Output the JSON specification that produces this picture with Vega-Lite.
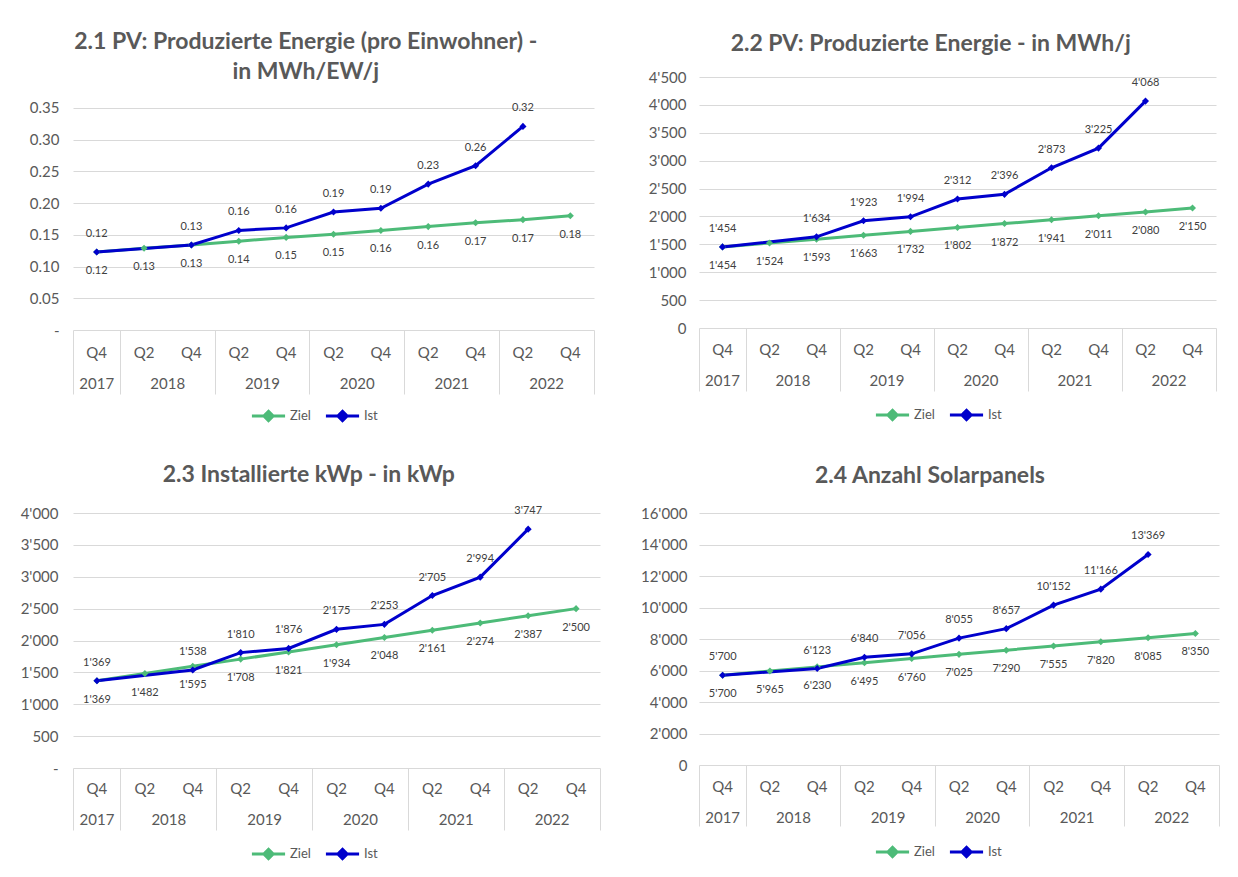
{
  "$schema": "https://vega.github.io/schema/vega-lite/v6.json",
  "padding": {"left": 17, "top": 31, "right": 5, "bottom": 5},
  "background": "white",
  "config": {
    "font": "Lato",
    "view": {"stroke": null},
    "locale": {"number": {"decimal": ".", "thousands": "'", "grouping": [3], "currency": ["", ""]}},
    "axis": {"labelColor": "#595959", "labelFontSize": 15, "gridColor": "#d9d9d9", "domain": false, "ticks": false, "labelFont": "Lato"},
    "title": {"fontSize": 23, "fontWeight": "bold", "color": "#595959", "anchor": "middle", "frame": "bounds", "offset": 18, "lineHeight": 30, "font": "Lato"},
    "legend": {"title": null, "direction": "horizontal", "labelFontSize": 13, "labelColor": "#595959", "symbolType": "M-1,0L1,0M0,-0.28L0.28,0L0,0.28L-0.28,0Z", "symbolSize": 1100, "symbolStrokeWidth": 3, "columnPadding": 8, "labelOffset": 3}
  },
  "datasets": {
    "pc": [
      {"period": "2017-Q4", "series": "Ziel", "value": 0.123},
      {"period": "2018-Q2", "series": "Ziel", "value": 0.129},
      {"period": "2018-Q4", "series": "Ziel", "value": 0.134},
      {"period": "2019-Q2", "series": "Ziel", "value": 0.140},
      {"period": "2019-Q4", "series": "Ziel", "value": 0.146},
      {"period": "2020-Q2", "series": "Ziel", "value": 0.151},
      {"period": "2020-Q4", "series": "Ziel", "value": 0.157},
      {"period": "2021-Q2", "series": "Ziel", "value": 0.163},
      {"period": "2021-Q4", "series": "Ziel", "value": 0.169},
      {"period": "2022-Q2", "series": "Ziel", "value": 0.174},
      {"period": "2022-Q4", "series": "Ziel", "value": 0.180},
      {"period": "2017-Q4", "series": "Ist", "value": 0.123},
      {"period": "2018-Q4", "series": "Ist", "value": 0.134},
      {"period": "2019-Q2", "series": "Ist", "value": 0.157},
      {"period": "2019-Q4", "series": "Ist", "value": 0.161},
      {"period": "2020-Q2", "series": "Ist", "value": 0.186},
      {"period": "2020-Q4", "series": "Ist", "value": 0.192},
      {"period": "2021-Q2", "series": "Ist", "value": 0.230},
      {"period": "2021-Q4", "series": "Ist", "value": 0.259},
      {"period": "2022-Q2", "series": "Ist", "value": 0.321}
    ],
    "energy": [
      {"period": "2017-Q4", "series": "Ziel", "value": 1454},
      {"period": "2018-Q2", "series": "Ziel", "value": 1524},
      {"period": "2018-Q4", "series": "Ziel", "value": 1593},
      {"period": "2019-Q2", "series": "Ziel", "value": 1663},
      {"period": "2019-Q4", "series": "Ziel", "value": 1732},
      {"period": "2020-Q2", "series": "Ziel", "value": 1802},
      {"period": "2020-Q4", "series": "Ziel", "value": 1872},
      {"period": "2021-Q2", "series": "Ziel", "value": 1941},
      {"period": "2021-Q4", "series": "Ziel", "value": 2011},
      {"period": "2022-Q2", "series": "Ziel", "value": 2080},
      {"period": "2022-Q4", "series": "Ziel", "value": 2150},
      {"period": "2017-Q4", "series": "Ist", "value": 1454},
      {"period": "2018-Q4", "series": "Ist", "value": 1634},
      {"period": "2019-Q2", "series": "Ist", "value": 1923},
      {"period": "2019-Q4", "series": "Ist", "value": 1994},
      {"period": "2020-Q2", "series": "Ist", "value": 2312},
      {"period": "2020-Q4", "series": "Ist", "value": 2396},
      {"period": "2021-Q2", "series": "Ist", "value": 2873},
      {"period": "2021-Q4", "series": "Ist", "value": 3225},
      {"period": "2022-Q2", "series": "Ist", "value": 4068}
    ],
    "kwp": [
      {"period": "2017-Q4", "series": "Ziel", "value": 1369},
      {"period": "2018-Q2", "series": "Ziel", "value": 1482},
      {"period": "2018-Q4", "series": "Ziel", "value": 1595},
      {"period": "2019-Q2", "series": "Ziel", "value": 1708},
      {"period": "2019-Q4", "series": "Ziel", "value": 1821},
      {"period": "2020-Q2", "series": "Ziel", "value": 1934},
      {"period": "2020-Q4", "series": "Ziel", "value": 2048},
      {"period": "2021-Q2", "series": "Ziel", "value": 2161},
      {"period": "2021-Q4", "series": "Ziel", "value": 2274},
      {"period": "2022-Q2", "series": "Ziel", "value": 2387},
      {"period": "2022-Q4", "series": "Ziel", "value": 2500},
      {"period": "2017-Q4", "series": "Ist", "value": 1369},
      {"period": "2018-Q4", "series": "Ist", "value": 1538},
      {"period": "2019-Q2", "series": "Ist", "value": 1810},
      {"period": "2019-Q4", "series": "Ist", "value": 1876},
      {"period": "2020-Q2", "series": "Ist", "value": 2175},
      {"period": "2020-Q4", "series": "Ist", "value": 2253},
      {"period": "2021-Q2", "series": "Ist", "value": 2705},
      {"period": "2021-Q4", "series": "Ist", "value": 2994},
      {"period": "2022-Q2", "series": "Ist", "value": 3747}
    ],
    "panels": [
      {"period": "2017-Q4", "series": "Ziel", "value": 5700},
      {"period": "2018-Q2", "series": "Ziel", "value": 5965},
      {"period": "2018-Q4", "series": "Ziel", "value": 6230},
      {"period": "2019-Q2", "series": "Ziel", "value": 6495},
      {"period": "2019-Q4", "series": "Ziel", "value": 6760},
      {"period": "2020-Q2", "series": "Ziel", "value": 7025},
      {"period": "2020-Q4", "series": "Ziel", "value": 7290},
      {"period": "2021-Q2", "series": "Ziel", "value": 7555},
      {"period": "2021-Q4", "series": "Ziel", "value": 7820},
      {"period": "2022-Q2", "series": "Ziel", "value": 8085},
      {"period": "2022-Q4", "series": "Ziel", "value": 8350},
      {"period": "2017-Q4", "series": "Ist", "value": 5700},
      {"period": "2018-Q4", "series": "Ist", "value": 6123},
      {"period": "2019-Q2", "series": "Ist", "value": 6840},
      {"period": "2019-Q4", "series": "Ist", "value": 7056},
      {"period": "2020-Q2", "series": "Ist", "value": 8055},
      {"period": "2020-Q4", "series": "Ist", "value": 8657},
      {"period": "2021-Q2", "series": "Ist", "value": 10152},
      {"period": "2021-Q4", "series": "Ist", "value": 11166},
      {"period": "2022-Q2", "series": "Ist", "value": 13369}
    ]
  },
  "columns": 2,
  "spacing": {"row": 37, "column": 39},
  "resolve": {"scale": {"color": "independent"}, "legend": {"color": "independent"}},
  "concat": [
    {
      "title": {"text": ["2.1 PV: Produzierte Energie (pro Einwohner) -", "in MWh/EW/j"], "offset": -7},
      "width": 521, "height": 253,
      "data": {"name": "pc"},
      "encoding": {
        "y": {"field": "value", "type": "quantitative", "scale": {"domain": [0, 0.39887], "nice": false, "zero": true}, "axis": {"title": null, "values": [0, 0.05, 0.1, 0.15, 0.2, 0.25, 0.3, 0.35], "labelExpr": "datum.value == 0 ? '-' : format(datum.value, '.2f')", "grid": true, "labelPadding": 14, "minExtent": 56}},
        "color": {"field": "series", "type": "nominal", "scale": {"domain": ["Ziel", "Ist"], "range": ["#4dbb78", "#0000cc"]}, "legend": {"orient": "none", "legendX": 177, "legendY": 320}}
      },
      "layer": [
        {"mark": {"type": "line", "strokeWidth": 3}, "encoding": {"x": {"field": "period", "type": "ordinal", "bandPosition": 0.5, "scale": {"type": "band", "domain": ["2017-Q4","2018-Q2","2018-Q4","2019-Q2","2019-Q4","2020-Q2","2020-Q4","2021-Q2","2021-Q4","2022-Q2","2022-Q4"], "paddingInner": 0, "paddingOuter": 0}, "axis": {"orient": "bottom", "title": null, "labelAngle": 0, "grid": false, "ticks": false, "domain": false, "labelPadding": 15, "labelLineHeight": 31, "labelOverlap": false, "labelBaseline": "top", "labelExpr": "datum.value == '2017-Q4' ? ['Q4', '2017'] : substring(datum.value, 5)"}}}},
        {"mark": {"type": "point", "shape": "diamond", "filled": true, "size": 50, "opacity": 1}, "encoding": {"x": {"field": "period", "type": "ordinal", "bandPosition": 0.5, "axis": {"orient": "bottom", "title": null, "labelAngle": 0, "grid": false, "ticks": false, "domain": false, "labelOffset": 23.7, "values": ["2018-Q2","2019-Q2","2020-Q2","2021-Q2","2022-Q2"], "labelPadding": 46, "labelOverlap": false, "labelBaseline": "top", "labelExpr": "substring(datum.value, 0, 4)"}}}},
        {"transform": [{"filter": "datum.series == 'Ist'"}], "mark": {"type": "text", "dy": -18, "fontSize": 11}, "encoding": {"x": {"field": "period", "type": "ordinal", "bandPosition": 0.5, "axis": {"orient": "bottom", "title": null, "labels": false, "grid": false, "domain": false, "ticks": true, "tickSize": 64, "tickColor": "#d9d9d9", "tickWidth": 1, "bandPosition": 0, "values": ["2017-Q4","2018-Q2","2019-Q2","2020-Q2","2021-Q2","2022-Q2"]}}, "text": {"field": "value", "type": "quantitative", "format": ".2f"}, "color": {"value": "#404040"}}},
        {"transform": [{"filter": "datum.series == 'Ziel'"}], "mark": {"type": "text", "dy": 19, "fontSize": 11}, "encoding": {"x": {"field": "period", "type": "ordinal", "bandPosition": 0.5, "axis": {"orient": "bottom", "title": null, "labels": false, "grid": false, "domain": false, "ticks": true, "tickSize": 64, "tickColor": "#d9d9d9", "tickWidth": 1, "bandPosition": 1, "values": ["2022-Q4"]}}, "text": {"field": "value", "type": "quantitative", "format": ".2f"}, "color": {"value": "#404040"}}}
      ],
      "resolve": {"axis": {"x": "independent"}}
    },
    {
      "title": {"text": "2.2 PV: Produzierte Energie - in MWh/j", "offset": 14},
      "width": 517, "height": 251,
      "data": {"name": "energy"},
      "encoding": {
        "y": {"field": "value", "type": "quantitative", "scale": {"domain": [0, 4500], "nice": false, "zero": true}, "axis": {"title": null, "values": [0, 500, 1000, 1500, 2000, 2500, 3000, 3500, 4000, 4500], "format": ",d", "grid": true, "labelPadding": 13, "minExtent": 54}},
        "color": {"field": "series", "type": "nominal", "scale": {"domain": ["Ziel", "Ist"], "range": ["#4dbb78", "#0000cc"]}, "legend": {"orient": "none", "legendX": 175, "legendY": 319}}
      },
      "layer": [
        {"mark": {"type": "line", "strokeWidth": 3}, "encoding": {"x": {"field": "period", "type": "ordinal", "bandPosition": 0.5, "scale": {"type": "band", "domain": ["2017-Q4","2018-Q2","2018-Q4","2019-Q2","2019-Q4","2020-Q2","2020-Q4","2021-Q2","2021-Q4","2022-Q2","2022-Q4"], "paddingInner": 0, "paddingOuter": 0}, "axis": {"orient": "bottom", "title": null, "labelAngle": 0, "grid": false, "ticks": false, "domain": false, "labelPadding": 14, "labelLineHeight": 31, "labelOverlap": false, "labelBaseline": "top", "labelExpr": "datum.value == '2017-Q4' ? ['Q4', '2017'] : substring(datum.value, 5)"}}}},
        {"mark": {"type": "point", "shape": "diamond", "filled": true, "size": 50, "opacity": 1}, "encoding": {"x": {"field": "period", "type": "ordinal", "bandPosition": 0.5, "axis": {"orient": "bottom", "title": null, "labelAngle": 0, "grid": false, "ticks": false, "domain": false, "labelOffset": 23.5, "values": ["2018-Q2","2019-Q2","2020-Q2","2021-Q2","2022-Q2"], "labelPadding": 45, "labelOverlap": false, "labelBaseline": "top", "labelExpr": "substring(datum.value, 0, 4)"}}}},
        {"transform": [{"filter": "datum.series == 'Ist'"}], "mark": {"type": "text", "dy": -18, "fontSize": 11}, "encoding": {"x": {"field": "period", "type": "ordinal", "bandPosition": 0.5, "axis": {"orient": "bottom", "title": null, "labels": false, "grid": false, "domain": false, "ticks": true, "tickSize": 63, "tickColor": "#d9d9d9", "tickWidth": 1, "bandPosition": 0, "values": ["2017-Q4","2018-Q2","2019-Q2","2020-Q2","2021-Q2","2022-Q2"]}}, "text": {"field": "value", "type": "quantitative", "format": ",d"}, "color": {"value": "#404040"}}},
        {"transform": [{"filter": "datum.series == 'Ziel'"}], "mark": {"type": "text", "dy": 19, "fontSize": 11}, "encoding": {"x": {"field": "period", "type": "ordinal", "bandPosition": 0.5, "axis": {"orient": "bottom", "title": null, "labels": false, "grid": false, "domain": false, "ticks": true, "tickSize": 63, "tickColor": "#d9d9d9", "tickWidth": 1, "bandPosition": 1, "values": ["2022-Q4"]}}, "text": {"field": "value", "type": "quantitative", "format": ",d"}, "color": {"value": "#404040"}}}
      ],
      "resolve": {"axis": {"x": "independent"}}
    },
    {
      "title": {"text": "2.3 Installierte kWp - in kWp"},
      "width": 527, "height": 255,
      "data": {"name": "kwp"},
      "encoding": {
        "y": {"field": "value", "type": "quantitative", "scale": {"domain": [0, 4000], "nice": false, "zero": true}, "axis": {"title": null, "values": [0, 500, 1000, 1500, 2000, 2500, 3000, 3500, 4000], "labelExpr": "datum.value == 0 ? '-' : format(datum.value, ',d')", "grid": true, "labelPadding": 15, "minExtent": 56}},
        "color": {"field": "series", "type": "nominal", "scale": {"domain": ["Ziel", "Ist"], "range": ["#4dbb78", "#0000cc"]}, "legend": {"orient": "none", "legendX": 177, "legendY": 322}}
      },
      "layer": [
        {"mark": {"type": "line", "strokeWidth": 3}, "encoding": {"x": {"field": "period", "type": "ordinal", "bandPosition": 0.5, "scale": {"type": "band", "domain": ["2017-Q4","2018-Q2","2018-Q4","2019-Q2","2019-Q4","2020-Q2","2020-Q4","2021-Q2","2021-Q4","2022-Q2","2022-Q4"], "paddingInner": 0, "paddingOuter": 0}, "axis": {"orient": "bottom", "title": null, "labelAngle": 0, "grid": false, "ticks": false, "domain": false, "labelPadding": 13, "labelLineHeight": 31, "labelOverlap": false, "labelBaseline": "top", "labelExpr": "datum.value == '2017-Q4' ? ['Q4', '2017'] : substring(datum.value, 5)"}}}},
        {"mark": {"type": "point", "shape": "diamond", "filled": true, "size": 50, "opacity": 1}, "encoding": {"x": {"field": "period", "type": "ordinal", "bandPosition": 0.5, "axis": {"orient": "bottom", "title": null, "labelAngle": 0, "grid": false, "ticks": false, "domain": false, "labelOffset": 23.95, "values": ["2018-Q2","2019-Q2","2020-Q2","2021-Q2","2022-Q2"], "labelPadding": 44, "labelOverlap": false, "labelBaseline": "top", "labelExpr": "substring(datum.value, 0, 4)"}}}},
        {"transform": [{"filter": "datum.series == 'Ist'"}], "mark": {"type": "text", "dy": -18, "fontSize": 11}, "encoding": {"x": {"field": "period", "type": "ordinal", "bandPosition": 0.5, "axis": {"orient": "bottom", "title": null, "labels": false, "grid": false, "domain": false, "ticks": true, "tickSize": 62, "tickColor": "#d9d9d9", "tickWidth": 1, "bandPosition": 0, "values": ["2017-Q4","2018-Q2","2019-Q2","2020-Q2","2021-Q2","2022-Q2"]}}, "text": {"field": "value", "type": "quantitative", "format": ",d"}, "color": {"value": "#404040"}}},
        {"transform": [{"filter": "datum.series == 'Ziel'"}], "mark": {"type": "text", "dy": 19, "fontSize": 11}, "encoding": {"x": {"field": "period", "type": "ordinal", "bandPosition": 0.5, "axis": {"orient": "bottom", "title": null, "labels": false, "grid": false, "domain": false, "ticks": true, "tickSize": 62, "tickColor": "#d9d9d9", "tickWidth": 1, "bandPosition": 1, "values": ["2022-Q4"]}}, "text": {"field": "value", "type": "quantitative", "format": ",d"}, "color": {"value": "#404040"}}}
      ],
      "resolve": {"axis": {"x": "independent"}}
    },
    {
      "title": {"text": "2.4 Anzahl Solarpanels"},
      "width": 520, "height": 252,
      "data": {"name": "panels"},
      "encoding": {
        "y": {"field": "value", "type": "quantitative", "scale": {"domain": [0, 16000], "nice": false, "zero": true}, "axis": {"title": null, "values": [0, 2000, 4000, 6000, 8000, 10000, 12000, 14000, 16000], "format": ",d", "grid": true, "labelPadding": 12, "minExtent": 54}},
        "color": {"field": "series", "type": "nominal", "scale": {"domain": ["Ziel", "Ist"], "range": ["#4dbb78", "#0000cc"]}, "legend": {"orient": "none", "legendX": 175, "legendY": 320}}
      },
      "layer": [
        {"mark": {"type": "line", "strokeWidth": 3}, "encoding": {"x": {"field": "period", "type": "ordinal", "bandPosition": 0.5, "scale": {"type": "band", "domain": ["2017-Q4","2018-Q2","2018-Q4","2019-Q2","2019-Q4","2020-Q2","2020-Q4","2021-Q2","2021-Q4","2022-Q2","2022-Q4"], "paddingInner": 0, "paddingOuter": 0}, "axis": {"orient": "bottom", "title": null, "labelAngle": 0, "grid": false, "ticks": false, "domain": false, "labelPadding": 14, "labelLineHeight": 31, "labelOverlap": false, "labelBaseline": "top", "labelExpr": "datum.value == '2017-Q4' ? ['Q4', '2017'] : substring(datum.value, 5)"}}}},
        {"mark": {"type": "point", "shape": "diamond", "filled": true, "size": 50, "opacity": 1}, "encoding": {"x": {"field": "period", "type": "ordinal", "bandPosition": 0.5, "axis": {"orient": "bottom", "title": null, "labelAngle": 0, "grid": false, "ticks": false, "domain": false, "labelOffset": 23.6, "values": ["2018-Q2","2019-Q2","2020-Q2","2021-Q2","2022-Q2"], "labelPadding": 45, "labelOverlap": false, "labelBaseline": "top", "labelExpr": "substring(datum.value, 0, 4)"}}}},
        {"transform": [{"filter": "datum.series == 'Ist'"}], "mark": {"type": "text", "dy": -18, "fontSize": 11}, "encoding": {"x": {"field": "period", "type": "ordinal", "bandPosition": 0.5, "axis": {"orient": "bottom", "title": null, "labels": false, "grid": false, "domain": false, "ticks": true, "tickSize": 61, "tickColor": "#d9d9d9", "tickWidth": 1, "bandPosition": 0, "values": ["2017-Q4","2018-Q2","2019-Q2","2020-Q2","2021-Q2","2022-Q2"]}}, "text": {"field": "value", "type": "quantitative", "format": ",d"}, "color": {"value": "#404040"}}},
        {"transform": [{"filter": "datum.series == 'Ziel'"}], "mark": {"type": "text", "dy": 19, "fontSize": 11}, "encoding": {"x": {"field": "period", "type": "ordinal", "bandPosition": 0.5, "axis": {"orient": "bottom", "title": null, "labels": false, "grid": false, "domain": false, "ticks": true, "tickSize": 61, "tickColor": "#d9d9d9", "tickWidth": 1, "bandPosition": 1, "values": ["2022-Q4"]}}, "text": {"field": "value", "type": "quantitative", "format": ",d"}, "color": {"value": "#404040"}}}
      ],
      "resolve": {"axis": {"x": "independent"}}
    }
  ]
}
